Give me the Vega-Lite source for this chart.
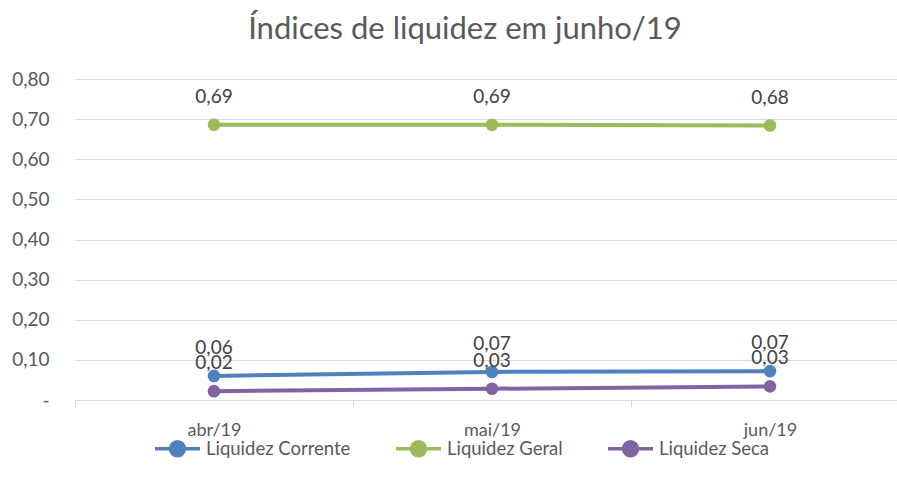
{
  "$schema": "https://vega.github.io/schema/vega-lite/v6.json",
  "width": 834,
  "height": 321,
  "autosize": {"type": "none"},
  "padding": {"left": 75, "top": 79, "right": 0, "bottom": 86},
  "background": "white",
  "config": {
    "locale": {"number": {"decimal": ",", "thousands": ".", "grouping": [3], "currency": ["R$", ""]}},
    "font": "Lato",
    "view": {"stroke": null}
  },
  "title": {
    "text": "Índices de liquidez em junho/19",
    "fontSize": 31,
    "font": "Lato",
    "fontWeight": "normal",
    "color": "#595959",
    "anchor": "middle",
    "dx": -27,
    "offset": 0,
    "baseline": "alphabetic"
  },
  "data": {
    "values": [
      {"mes": "abr/19", "serie": "Liquidez Corrente", "valor": 0.060},
      {"mes": "mai/19", "serie": "Liquidez Corrente", "valor": 0.070},
      {"mes": "jun/19", "serie": "Liquidez Corrente", "valor": 0.072},
      {"mes": "abr/19", "serie": "Liquidez Geral", "valor": 0.686},
      {"mes": "mai/19", "serie": "Liquidez Geral", "valor": 0.686},
      {"mes": "jun/19", "serie": "Liquidez Geral", "valor": 0.684},
      {"mes": "abr/19", "serie": "Liquidez Seca", "valor": 0.022},
      {"mes": "mai/19", "serie": "Liquidez Seca", "valor": 0.028},
      {"mes": "jun/19", "serie": "Liquidez Seca", "valor": 0.034}
    ]
  },
  "encoding": {
    "x": {
      "field": "mes",
      "type": "ordinal",
      "sort": ["abr/19", "mai/19", "jun/19"],
      "scale": {"type": "band", "paddingInner": 0, "paddingOuter": 0},
      "axis": {
        "title": null,
        "labelAngle": 0,
        "domain": true,
        "domainColor": "#d9d9d9",
        "domainWidth": 1,
        "ticks": true,
        "tickBand": "extent",
        "tickColor": "#d9d9d9",
        "tickSize": 7,
        "grid": false,
        "labelPadding": 14,
        "labelFont": "Lato",
        "labelFontSize": 18,
        "labelColor": "#595959"
      }
    },
    "y": {
      "field": "valor",
      "type": "quantitative",
      "scale": {"domain": [0, 0.8], "nice": false},
      "axis": {
        "title": null,
        "values": [0, 0.1, 0.2, 0.3, 0.4, 0.5, 0.6, 0.7, 0.8],
        "labelExpr": "datum.value == 0 ? '-' : replace(format(datum.value, '.2f'), '.', ',')",
        "domain": false,
        "ticks": false,
        "grid": true,
        "gridColor": "#d9d9d9",
        "gridWidth": 1,
        "labelPadding": 26,
        "labelFont": "Lato",
        "labelFontSize": 19,
        "labelColor": "#595959"
      }
    }
  },
  "layer": [
    {
      "mark": {"type": "line", "strokeWidth": 4, "point": {"filled": true, "size": 160, "opacity": 1}},
      "encoding": {
        "color": {
          "field": "serie",
          "type": "nominal",
          "scale": {
            "domain": ["Liquidez Corrente", "Liquidez Geral", "Liquidez Seca"],
            "range": ["#4f81bd", "#9bbb59", "#8064a2"]
          },
          "legend": {
            "title": null,
            "orient": "none",
            "direction": "horizontal",
            "legendX": 78,
            "legendY": 345,
            "padding": 0,
            "symbolType": "M-1,0H1M0.31,0A0.31,0.31 0 1,1 -0.31,0A0.31,0.31 0 1,1 0.31,0",
            "symbolSize": 2025,
            "symbolStrokeWidth": 3.5,
            "labelOffset": 4,
            "columnPadding": 38,
            "labelFont": "Lato",
            "labelFontSize": 18.5,
            "labelColor": "#595959",
            "encode": {
              "symbols": {
                "update": {
                  "fill": {"scale": "color", "field": "value"},
                  "stroke": {"scale": "color", "field": "value"},
                  "opacity": {"value": 1}
                }
              }
            }
          }
        }
      }
    },
    {
      "mark": {"type": "text", "dy": -28, "fontSize": 19, "font": "Lato", "color": "#404040"},
      "encoding": {
        "text": {"field": "valor", "type": "quantitative", "format": ".2f"}
      }
    }
  ]
}
